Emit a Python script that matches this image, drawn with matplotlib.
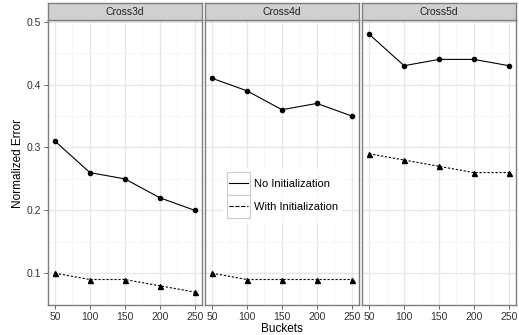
import matplotlib
import matplotlib.pyplot as plt
from matplotlib.lines import Line2D
from matplotlib.patches import Rectangle
from matplotlib.legend_handler import HandlerLine2D

plt.switch_backend('Agg')
plt.rcParams["font.family"] = ["Liberation Sans", "DejaVu Sans"]

buckets = [50, 100, 150, 200, 250]
panels = ["Cross3d", "Cross4d", "Cross5d"]
no_init = {
    "Cross3d": [0.31, 0.26, 0.25, 0.22, 0.20],
    "Cross4d": [0.41, 0.39, 0.36, 0.37, 0.35],
    "Cross5d": [0.48, 0.43, 0.44, 0.44, 0.43],
}
with_init = {
    "Cross3d": [0.10, 0.09, 0.09, 0.08, 0.07],
    "Cross4d": [0.10, 0.09, 0.09, 0.09, 0.09],
    "Cross5d": [0.29, 0.28, 0.27, 0.26, 0.26],
}
yticks = [0.1, 0.2, 0.3, 0.4, 0.5]

border = '#7f7f7f'
dash = (0, (2, 1.6))


class BoxedLine(HandlerLine2D):
    # ggplot-style legend key: line inside a grey-bordered square
    def create_artists(self, legend, orig_handle, xdescent, ydescent,
                       width, height, fontsize, trans):
        box = Rectangle((-xdescent, -ydescent), width, height,
                        facecolor='white', edgecolor='#cccccc', lw=0.8,
                        transform=trans)
        y = -ydescent + height / 2
        ln = Line2D([-xdescent + 0.08 * width, -xdescent + 0.92 * width],
                    [y, y], color=orig_handle.get_color(),
                    lw=orig_handle.get_linewidth(),
                    ls=orig_handle.get_linestyle(), transform=trans)
        return [box, ln]


fig, axes = plt.subplots(1, 3, figsize=(5.19, 3.35), dpi=100, sharey=True)
fig.subplots_adjust(left=0.0925, right=0.994, top=0.940, bottom=0.0896,
                    wspace=0.022)

for ax, name in zip(axes, panels):
    ax.plot(buckets, no_init[name], color='black', lw=0.8,
            marker='o', ms=3.0, zorder=3)
    ax.plot(buckets, with_init[name], color='black', lw=0.8,
            ls=dash, marker='^', ms=3.6, zorder=3)
    ax.set_xlim(40, 260)
    ax.set_ylim(0.0495, 0.5025)
    ax.set_xticks(buckets)
    ax.set_xticks([75, 125, 175, 225], minor=True)
    ax.set_yticks(yticks)
    ax.set_yticks([0.15, 0.25, 0.35, 0.45], minor=True)
    ax.grid(which='major', color='#e6e6e6', lw=0.9)
    ax.grid(which='minor', color='#f3f3f3', lw=0.5)
    ax.set_axisbelow(True)
    for sp in ax.spines.values():
        sp.set_color(border)
        sp.set_linewidth(1.0)
    ax.tick_params(which='major', length=3, width=0.6, color='#4d4d4d',
                   labelsize=7.5, labelcolor='#333333', pad=2)
    ax.tick_params(which='minor', length=0)
    if ax is not axes[0]:
        ax.tick_params(axis='y', length=0)

    # facet strip
    pos = ax.get_position()
    strip = fig.add_axes([pos.x0, pos.y1, pos.width, 17 / 335])
    strip.set_facecolor('#d0d0d0')
    strip.set_xticks([])
    strip.set_yticks([])
    for sp in strip.spines.values():
        sp.set_color(border)
        sp.set_linewidth(1.0)
    strip.text(0.5, 0.5, name, ha='center', va='center', fontsize=7.5,
               color='#222222', transform=strip.transAxes)

fig.text(0.543, 0.0, "Buckets", ha='center', va='bottom', fontsize=8.5)
fig.text(0.034, 0.513, "Normalized Error", ha='center', va='center',
         rotation='vertical', fontsize=8.5)

handles = [Line2D([], [], color='black', lw=0.8),
           Line2D([], [], color='black', lw=0.8, ls=dash)]
leg = fig.legend(handles, ["No Initialization", "With Initialization"],
                 loc='center', bbox_to_anchor=(0.544, 0.418),
                 fontsize=8, frameon=True, fancybox=False,
                 handlelength=2.1, handleheight=2.8, handletextpad=0.3,
                 borderpad=0.35, labelspacing=0.0,
                 handler_map={Line2D: BoxedLine()})
leg.get_frame().set_edgecolor('white')
leg.get_frame().set_facecolor('white')

plt.savefig("out.png", dpi=100)
